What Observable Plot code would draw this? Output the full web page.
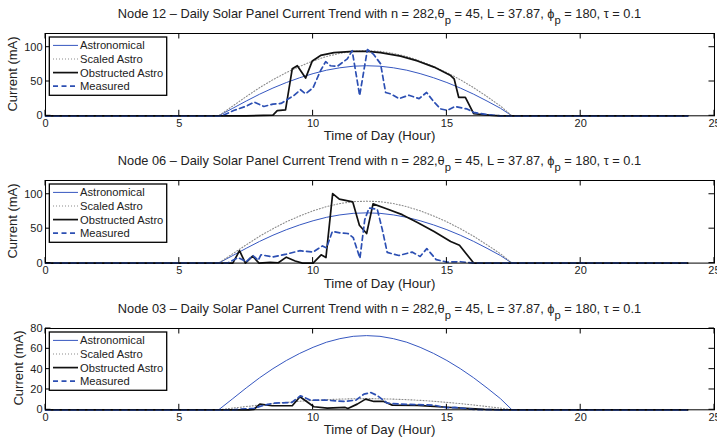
<!DOCTYPE html>
<html>
<head>
<meta charset="utf-8">
<script src="https://cdn.jsdelivr.net/npm/d3@7"></script>
<script src="https://cdn.jsdelivr.net/npm/@observablehq/plot@0.6"></script>
<style>
  body { margin: 0; background: #fff; }
  #root { position: relative; width: 717px; height: 438px; overflow: hidden; background: #fff;
          font-family: "Liberation Sans", Arial, Helvetica, sans-serif; color: #222; }
  .title { position: absolute; left: 45px; width: 669px; text-align: center; white-space: nowrap;
           font-size: 12.8px; line-height: 14px; }
  .title sub { font-size: 0.88em; vertical-align: -0.55em; line-height: 0; }
  .xlabel { position: absolute; left: 45px; width: 669px; text-align: center; font-size: 13.2px; line-height: 14px; }
  .ylabel { position: absolute; width: 120px; text-align: center; font-size: 13px; line-height: 14px;
            transform: rotate(-90deg); transform-origin: 50% 50%; }
  svg.plot { position: absolute; left: 0; }
</style>
</head>
<body>
<div id="root"></div>
<script>
// ---------- data ----------
const xTicks = [0, 5, 10, 15, 20, 25];
const yTicksA = [0, 50, 100];
const yTicksB = [0, 20, 40, 60, 80];
const seriesNames = ["Astronomical", "Scaled Astro", "Obstructed Astro", "Measured"];
const nodeNames = ["Node 12", "Node 06", "Node 03"];

// Astronomical model (same for every node)
const astroHours   = [0, 6.47, 7, 7.5, 8, 8.5, 9, 9.5, 10, 10.5, 11, 11.5, 12, 12.5, 13, 13.5, 14, 14.5, 15, 15.5, 16, 16.5, 17, 17.43, 24];
const astroCurrent = [0, 0, 11, 21.5, 31.5, 40.5, 48.5, 55.5, 61.5, 66.5, 70, 72.3, 73, 72.3, 70, 66.5, 61.5, 55.5, 48.5, 40.5, 31.5, 21.5, 11, 0, 0];

// Scaled astronomical, per node (same hours as astroHours)
const scaled12 = [0, 0, 14.3, 28, 41, 52.7, 63, 72, 80, 86.5, 91, 94, 95, 94, 91, 86.5, 80, 72, 63, 52.7, 41, 28, 14.3, 0, 0];
const scaled06 = [0, 0, 13.6, 26.5, 39, 50, 60, 68.5, 76, 82, 86.5, 89.3, 90, 89.3, 86.5, 82, 76, 68.5, 60, 50, 39, 26.5, 13.6, 0, 0];
const scaled03 = [0, 0, 1.7, 3.2, 4.7, 6.1, 7.3, 8.4, 9.3, 10, 10.5, 10.9, 11, 10.9, 10.5, 10, 9.3, 8.4, 7.3, 6.1, 4.7, 3.2, 1.7, 0, 0];

// Node 12
const obs12Hours    = [0, 7.5, 8.5, 8.66, 8.97, 9.22, 9.41, 9.72, 9.97, 10.28, 10.78, 11.5, 12.03, 12.52, 13.27, 13.9, 14.52, 15.14, 15.27, 15.44, 15.69, 16.0, 16.7, 17, 24];
const obs12Current  = [0, 0, 1, 7.5, 8.5, 68.5, 73, 55, 80, 88, 92, 94, 94, 92, 87, 80, 71, 58.7, 54, 27, 27, 3, 0.5, 0, 0];
const meas12Hours   = [0, 6.6, 7.03, 7.5, 7.8, 8.16, 8.5, 8.8, 9.28, 9.53, 9.72, 10.0, 10.28, 10.47, 10.65, 10.9, 11.28, 11.46, 11.74, 12.03, 12.25, 12.52, 12.71, 12.9, 13.21, 13.58, 13.96, 14.24, 14.52, 14.77, 15.02, 15.3, 15.75, 16.0, 16.45, 17, 24];
const meas12Current = [0, 0, 7.7, 14, 20, 13.6, 17, 18, 29.6, 38, 32, 41, 66, 79, 73, 72, 83, 95, 29.6, 96.6, 90, 76, 34, 32, 25, 30, 25, 34, 20, 10, 8, 13.6, 10, 5, 2, 0, 0];

// Node 06
const obs06Hours    = [0, 7.0, 7.25, 7.47, 7.74, 7.98, 8.4, 8.7, 9.0, 9.33, 9.6, 10.0, 10.3, 10.48, 10.73, 10.98, 11.48, 11.73, 12.0, 12.24, 12.77, 13.33, 13.9, 14.52, 15.14, 15.47, 16.0, 24];
const obs06Current  = [0, 0, 18, 0, 10, 0, 1, 0.5, 8.6, 3, 0, 0, 12, 8, 101, 93, 89, 55, 43, 86, 78.6, 70.4, 59, 46, 31.5, 26, 0, 0];
const meas06Hours   = [0, 6.8, 7.2, 7.5, 7.75, 7.95, 8.05, 8.5, 9.0, 9.5, 10.0, 10.35, 10.5, 10.72, 11.0, 11.3, 11.5, 11.75, 11.93, 12.09, 12.4, 12.59, 12.77, 13.2, 13.7, 14.0, 14.25, 14.6, 15.0, 15.5, 16.0, 24];
const meas06Current = [0, 0, 8, 2, 11, 4, 12, 9, 13, 18, 16, 25, 22, 46, 44, 43, 37, 7, 63, 80, 78, 48, 15.5, 11, 16, 9.6, 21, 5, 1.5, 2, 0, 0];

// Node 03
const obs03Hours    = [0, 7.6, 7.79, 8.01, 8.47, 9.22, 9.51, 10.03, 10.53, 11.2, 11.3, 11.65, 11.96, 12.27, 12.64, 12.96, 13.9, 15.0, 16.4, 17, 24];
const obs03Current  = [0, 0, 0.5, 5.6, 4, 4, 12.8, 3, 1.6, 2.3, 1.3, 5.6, 10.5, 8.2, 8.2, 4.6, 4.4, 2.5, 0.5, 0, 0];
const meas03Hours   = [0, 7.0, 7.8, 8.1, 8.53, 9.2, 9.53, 9.9, 10.47, 11.15, 11.6, 11.9, 12.15, 12.4, 12.77, 13.27, 14.5, 15.0, 15.3, 16.0, 17, 24];
const meas03Current = [0, 0, 1.5, 4, 6.6, 7.2, 13.8, 9.5, 9.5, 8.2, 9.5, 15.4, 17, 14, 6.6, 5.6, 4.6, 2, 2.3, 0.3, 0, 0];

// ---------- helpers ----------
const toRows = (hours, values) => hours.map((h, i) => ({hour: h, current: values[i]}));
const styles = [
  {stroke: "#3556c0", strokeWidth: 1},
  {stroke: "#8a8a8a", strokeWidth: 1.1, strokeDasharray: "1,2"},
  {stroke: "#111", strokeWidth: 1.7},
  {stroke: "#2c4fb3", strokeWidth: 1.7, strokeDasharray: "5,3.5"}
];

const panels = [
  {node: nodeNames[0], frameTop: 33, plotH: 82.3, yMax: 120, yTicks: yTicksA, ylabX: 13,
   series: [toRows(astroHours, astroCurrent), toRows(astroHours, scaled12), toRows(obs12Hours, obs12Current), toRows(meas12Hours, meas12Current)]},
  {node: nodeNames[1], frameTop: 180, plotH: 82.6, yMax: 120, yTicks: yTicksA, ylabX: 13,
   series: [toRows(astroHours, astroCurrent), toRows(astroHours, scaled06), toRows(obs06Hours, obs06Current), toRows(meas06Hours, meas06Current)]},
  {node: nodeNames[2], frameTop: 327.7, plotH: 81.3, yMax: 80, yTicks: yTicksB, ylabX: 19,
   series: [toRows(astroHours, astroCurrent), toRows(astroHours, scaled03), toRows(obs03Hours, obs03Current), toRows(meas03Hours, meas03Current)]}
];

const root = document.getElementById("root");
const mT = 6, mB = 28, mL = 45, mR = 3, W = 717;
const tickLen = 5.5;

panels.forEach(p => {
  // title
  const t = document.createElement("div");
  t.className = "title";
  t.style.top = (p.frameTop - 26) + "px";
  t.innerHTML = `${p.node} – Daily Solar Panel Current Trend with n = 282,θ<sub>p</sub> = 45, L = 37.87, ϕ<sub>p</sub> = 180, τ = 0.1`;
  root.appendChild(t);

  const H = mT + p.plotH + mB;
  const plot = Plot.plot({
    width: W, height: H,
    marginTop: mT, marginBottom: mB, marginLeft: mL, marginRight: mR,
    x: {domain: [0, 25]},
    y: {domain: [0, p.yMax]},
    style: {fontFamily: "'Liberation Sans', Arial, Helvetica, sans-serif", fontSize: "11px", color: "#222", background: "transparent", overflow: "visible"},
    marks: [
      ...p.series.map((rows, i) => Plot.line(rows, {x: "hour", y: "current", ...styles[i]})),
      Plot.frame({stroke: "#000", strokeWidth: 1}),
      Plot.axisX({ticks: xTicks, tickSize: 0, tickPadding: 3, label: null, tickFormat: d => String(d)}),
      Plot.axisY({ticks: p.yTicks, tickSize: 0, tickPadding: 3, label: null, tickFormat: d => String(d)})
    ]
  });
  plot.classList.add("plot");
  plot.style.top = (p.frameTop - mT) + "px";
  root.appendChild(plot);

  // inward ticks on all four sides (MATLAB box style) using Plot's scales
  const xs = plot.scale("x"), ys = plot.scale("y");
  const top = mT, bottom = mT + p.plotH, left = mL, right = W - mR;
  const g = d3.select(plot).append("g").attr("stroke", "#000").attr("stroke-width", 1);
  xTicks.forEach(v => {
    const x = xs.apply(v);
    g.append("line").attr("x1", x).attr("x2", x).attr("y1", bottom).attr("y2", bottom - tickLen);
    g.append("line").attr("x1", x).attr("x2", x).attr("y1", top).attr("y2", top + tickLen);
  });
  p.yTicks.forEach(v => {
    const y = ys.apply(v);
    g.append("line").attr("x1", left).attr("x2", left + tickLen).attr("y1", y).attr("y2", y);
    g.append("line").attr("x1", right).attr("x2", right - tickLen).attr("y1", y).attr("y2", y);
  });

  // legend box
  const bx = 49.3, by = top + 4, bw = 117.4, bh = 58.3;
  const lg = d3.select(plot).append("g").attr("text-anchor", "start");
  lg.append("rect").attr("x", bx).attr("y", by).attr("width", bw).attr("height", bh)
    .attr("fill", "#fff").attr("stroke", "#000").attr("stroke-width", 1.3);
  seriesNames.forEach((name, i) => {
    const y = by + 8.4 + i * 13.6;
    const st = styles[i];
    lg.append("line").attr("x1", 53).attr("x2", 78).attr("y1", y).attr("y2", y)
      .attr("stroke", st.stroke).attr("stroke-width", st.strokeWidth)
      .attr("stroke-dasharray", st.strokeDasharray || null);
    lg.append("text").attr("x", 80).attr("y", y).attr("dy", "0.35em")
      .attr("text-anchor", "start")
      .attr("font-size", 11.2).attr("fill", "#222").text(name);
  });

  // axis labels
  const xl = document.createElement("div");
  xl.className = "xlabel";
  xl.style.top = (p.frameTop + p.plotH + 14) + "px";
  xl.textContent = "Time of Day (Hour)";
  root.appendChild(xl);

  const yl = document.createElement("div");
  yl.className = "ylabel";
  yl.style.left = (p.ylabX - 60) + "px";
  yl.style.top = (p.frameTop + p.plotH / 2 - 7) + "px";
  yl.textContent = "Current (mA)";
  root.appendChild(yl);
});
</script>
</body>
</html>
